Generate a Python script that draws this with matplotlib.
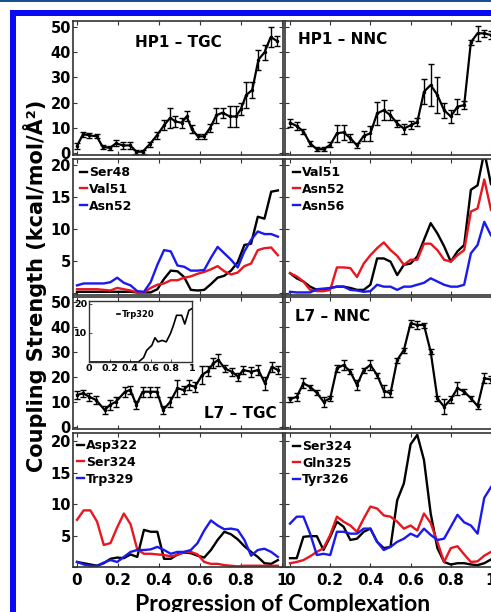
import numpy as np
import matplotlib
matplotlib.use('Agg')
import matplotlib.pyplot as plt
from matplotlib.patches import Rectangle

W, H = 491, 612

# ---------------- data ----------------
# Row 1: HP1 (error-bar curves)
x_hp1_tgc = [0, 0.03, 0.06, 0.096, 0.125, 0.16, 0.19, 0.225, 0.26, 0.29, 0.32, 0.355, 0.39, 0.425, 0.455,
             0.48, 0.51, 0.535, 0.56, 0.59, 0.62, 0.65, 0.68, 0.71, 0.745, 0.775, 0.8, 0.825, 0.855, 0.885,
             0.915, 0.945, 0.975]
hp1_tgc = [2.8, 7.5, 7.0, 6.6, 2.5, 2.0, 3.8, 3.0, 3.0, 0.5, 0.5, 3.5, 7.0, 11.0, 14.0, 12.5, 12.0, 14.5,
           9.5, 6.6, 6.6, 10.0, 15.0, 16.0, 14.5, 14.5, 17.5, 23.0, 25.0, 37.0, 40.0, 46.0, 44.5]
hp1_tgc_err = [1.2, 1.0, 1.0, 0.8, 0.8, 0.8, 1.2, 1.5, 1.5, 0.8, 0.8, 1.0, 1.5, 2.0, 4.0, 2.0, 2.0, 2.0,
               1.5, 1.0, 1.0, 1.5, 3.0, 2.0, 4.0, 4.0, 2.5, 5.0, 3.0, 4.0, 3.0, 4.0, 2.0]

x_right = np.linspace(0, 1, 31)
hp1_nnc = [12.0, 10.7, 8.5, 3.8, 1.5, 1.5, 3.2, 7.8, 8.2, 5.9, 3.0, 6.8, 7.8, 15.7, 17.0, 15.0, 11.7, 9.7,
           11.0, 12.3, 24.3, 27.0, 23.0, 17.0, 14.5, 18.4, 19.0, 44.0, 47.5, 47.5, 46.8]
hp1_nnc_err = [1.5, 1.5, 1.0, 1.0, 0.8, 0.8, 1.0, 3.5, 3.0, 1.5, 1.0, 2.0, 3.0, 4.5, 4.0, 2.0, 1.5, 2.0,
               1.5, 1.5, 5.0, 8.5, 7.0, 3.0, 2.5, 3.0, 1.5, 1.0, 3.0, 1.5, 1.5]

# Row 2: HP1 residues
x_left = np.linspace(0, 0.98, 31)
ser48 = [0.2, 0.2, 0.2, 0.2, 0.2, 0.2, 0.2, 0.2, 0.2, 0.1, 0.1, 0.1, 0.6, 2.2, 3.5, 3.4, 2.5, 0.5, 0.4,
         0.5, 1.4, 2.4, 2.7, 3.5, 4.8, 7.5, 7.7, 11.9, 11.6, 15.8, 16.0]
val51_tgc = [0.6, 0.6, 0.6, 0.6, 0.5, 0.4, 0.8, 0.6, 0.4, 0.1, 0.1, 0.8, 1.3, 1.5, 2.0, 2.0, 2.4, 2.6,
             3.0, 3.3, 3.7, 4.2, 3.4, 2.9, 3.2, 4.2, 4.6, 6.7, 7.0, 7.1, 5.9]
asn52_tgc = [1.2, 1.5, 1.5, 1.5, 1.5, 1.7, 2.4, 1.6, 1.2, 0.3, 0.2, 1.7, 4.4, 6.7, 6.5, 4.3, 4.1, 3.5,
             3.5, 3.6, 5.5, 7.2, 6.2, 5.2, 4.0, 6.5, 8.3, 9.6, 9.2, 9.2, 8.8]

val51_nnc = [3.1, 2.3, 1.8, 1.0, 0.5, 0.4, 0.8, 1.0, 1.0, 0.8, 0.5, 0.5, 1.3, 5.4, 5.4, 4.9, 2.8, 4.4,
             4.6, 5.7, 8.3, 10.9, 9.3, 7.3, 4.9, 6.5, 7.5, 16.1, 16.8, 22.0, 17.0]
asn52_nnc = [3.1, 2.6, 1.8, 0.5, 0.3, 0.3, 0.5, 4.0, 4.0, 3.9, 2.5, 4.6, 5.9, 7.0, 7.9, 6.7, 5.8, 4.4,
             5.2, 5.2, 7.7, 7.7, 6.7, 5.2, 4.9, 5.9, 6.7, 12.7, 13.2, 17.7, 13.0]
asn56_nnc = [0.2, 0.1, 0.1, 0.1, 0.6, 0.7, 0.8, 1.0, 1.0, 0.5, 0.4, 0.2, 0.3, 1.3, 1.0, 1.0, 0.5, 1.0,
             1.0, 1.3, 1.6, 2.3, 1.8, 1.3, 1.0, 1.0, 1.3, 6.2, 7.5, 11.1, 9.0]

# Row 3: L7 (error-bar curves)
x_l7_tgc = [0, 0.03, 0.06, 0.093, 0.135, 0.16, 0.19, 0.234, 0.26, 0.29, 0.32, 0.356, 0.39, 0.42, 0.454,
            0.49, 0.52, 0.545, 0.576, 0.61, 0.64, 0.665, 0.69, 0.72, 0.755, 0.787, 0.81, 0.85, 0.885,
            0.917, 0.95, 0.98]
l7_tgc = [12.8, 13.5, 12.1, 10.8, 6.8, 8.8, 10.1, 14.1, 14.8, 8.8, 14.1, 14.1, 14.1, 6.8, 10.0, 15.5,
          14.8, 16.8, 16.1, 20.8, 22.5, 25.5, 26.8, 23.5, 22.1, 20.1, 22.8, 22.1, 22.8, 17.5, 24.1, 22.8]
l7_tgc_err = [1.5, 1.5, 1.5, 1.5, 1.5, 2.0, 2.0, 2.0, 1.5, 1.5, 2.0, 2.0, 2.0, 1.5, 2.0, 3.5, 1.5, 2.0,
              2.0, 3.5, 2.0, 2.0, 2.5, 1.5, 1.5, 1.5, 1.5, 2.0, 2.0, 2.5, 2.0, 1.5]

l7_nnc = [11.1, 12.1, 17.5, 16.0, 13.7, 10.1, 11.5, 23.5, 24.8, 22.1, 16.8, 22.8, 24.8, 20.8, 14.5, 13.5,
          26.8, 30.8, 41.5, 40.8, 40.8, 30.1, 11.5, 8.1, 11.1, 15.5, 14.1, 11.5, 8.4, 19.5, 19.0]
l7_nnc_err = [1.0, 1.5, 2.0, 1.0, 1.0, 2.0, 1.0, 1.5, 2.0, 1.0, 2.0, 1.0, 2.0, 1.0, 2.5, 1.5,
              1.0, 1.0, 1.5, 1.5, 1.0, 1.0, 1.0, 3.0, 1.5, 2.5, 1.0, 1.0, 1.0, 2.0, 1.5]

# inset: Trp320
x_trp320 = [0, 0.1, 0.2, 0.3, 0.4, 0.48, 0.53, 0.56, 0.61, 0.64, 0.67, 0.71, 0.75, 0.79, 0.82, 0.85,
            0.9, 0.93, 0.97, 1.0]
trp320 = [0, 0, 0, 0, 0, 0, 1.5, 4.0, 5.7, 8.3, 6.9, 7.4, 6.9, 9.7, 12.6, 16.0, 16.0, 13.0, 17.7, 18.3]

# Row 4: L7 residues
asp322 = [0.8, 0.6, 0.4, 0.2, 0.6, 1.3, 1.5, 1.4, 2.0, 1.6, 5.9, 5.6, 5.6, 1.3, 1.3, 2.0, 2.3, 2.2,
          1.8, 1.5, 2.7, 4.3, 5.6, 5.2, 4.4, 3.3, 2.4, 1.6, 0.6, 0.5, 1.1]
ser324_tgc = [7.5, 9.0, 9.0, 7.2, 3.5, 3.8, 6.3, 8.5, 6.8, 2.8, 2.1, 2.1, 2.0, 1.9, 1.7, 1.9, 2.4, 2.4,
              2.0, 0.8, 0.5, 0.5, 0.3, 0.2, 0.1, 0.2, 0.2, 0.2, 0.2, 0.2, 0.2]
trp329 = [0.8, 0.4, 0.2, 0.2, 0.7, 1.1, 0.8, 1.6, 2.4, 2.7, 2.7, 2.8, 3.2, 2.7, 2.1, 2.4, 2.4, 2.7,
          3.8, 5.8, 7.4, 6.6, 6.0, 6.1, 5.9, 4.3, 1.8, 2.7, 2.9, 2.4, 1.6]

ser324_nnc = [1.4, 1.4, 4.8, 4.9, 4.9, 2.7, 4.8, 7.2, 6.4, 4.3, 4.5, 5.6, 6.1, 4.0, 3.0, 3.2, 10.6, 13.3,
              19.5, 21.0, 17.0, 8.5, 3.0, 0.8, 0.4, 0.6, 0.6, 0.4, 0.3, 0.6, 1.2]
gln325 = [0.6, 0.8, 1.1, 1.7, 2.4, 3.0, 5.1, 8.0, 7.2, 6.6, 5.6, 7.7, 9.6, 9.3, 8.2, 8.0, 7.2, 6.1,
          6.6, 5.8, 8.5, 7.0, 4.0, 0.8, 3.0, 3.3, 2.0, 0.8, 0.9, 1.8, 2.4]
tyr326 = [6.9, 8.0, 8.0, 5.3, 1.9, 2.1, 1.9, 5.6, 5.6, 5.3, 5.3, 6.1, 6.1, 4.0, 2.7, 3.2, 4.0, 4.5,
          5.3, 4.8, 6.1, 5.1, 4.3, 4.5, 6.4, 8.3, 7.1, 6.6, 5.3, 11.0, 12.7]

xticks = [0, 0.2, 0.4, 0.6, 0.8, 1.0]
xtick_labels = ['0', '0.2', '0.4', '0.6', '0.8', '1']

# ---------------- style ----------------
plt.rcParams['font.family'] = ['DejaVu Sans']
plt.rcParams['font.weight'] = 'bold'
RED = '#e8161e'
BLUE = '#1a1aee'
SPINE = '#333333'

fig = plt.figure(figsize=(W / 100, H / 100), dpi=100)
fig.patch.set_facecolor('white')


def px_axes(x0, y0, x1, y1):
    return fig.add_axes([x0 / W, 1 - y1 / H, (x1 - x0) / W, (y1 - y0) / H])


def style(ax, left, bottom_labels):
    for s in ax.spines.values():
        s.set_color(SPINE)
        s.set_linewidth(1.2)
    ax.tick_params(direction='in', length=3, width=0.8, color=SPINE, top=True, right=True,
                   labelleft=left, labelbottom=bottom_labels, pad=1.5)
    ax.tick_params(axis='y', labelsize=10.5)
    ax.tick_params(axis='x', labelsize=11, pad=4)
    ax.set_xticks(xticks)
    if bottom_labels:
        ax.set_xticklabels(xtick_labels)
    for lab in ax.get_yticklabels() + ax.get_xticklabels():
        lab.set_fontweight('bold')


LX0, LX1 = 73, 283
RX0, RX1 = 285, 497
rows = [(21, 155), (159, 295), (297, 429), (433, 567)]
lxlim = (-0.0195, 1.005)
rxlim = (-0.025, 1.03)
ylims = [(-0.8, 52.4), (-0.3, 20.9), (-0.8, 52.0), (0, 21.3)]

eb_kw = dict(fmt='-', color='black', lw=1.6, marker='.', ms=3, capsize=2, elinewidth=1.0, capthick=1.0)
ln_kw = dict(lw=1.7)
leg_kw = dict(frameon=False, handlelength=0.55, handletextpad=0.2, labelspacing=0.3,
              borderpad=0, borderaxespad=0, prop={'weight': 'bold', 'size': 9})

axes = {}
for r, (y0, y1) in enumerate(rows):
    for side in ('L', 'R'):
        if side == 'L':
            ax = px_axes(LX0, y0, LX1, y1)
            ax.set_xlim(*lxlim)
        else:
            ax = px_axes(RX0, y0, RX1, y1)
            ax.set_xlim(*rxlim)
        ax.set_ylim(*ylims[r])
        if r in (0, 2):
            ax.set_yticks([0, 10, 20, 30, 40, 50])
        else:
            ax.set_yticks([0, 5, 10, 15, 20])
            ax.set_yticklabels(['', '5', '10', '15', '20'])
        style(ax, side == 'L', r == 3)
        axes[(r, side)] = ax

# Row 1
ax = axes[(0, 'L')]
ax.errorbar(x_hp1_tgc, hp1_tgc, yerr=hp1_tgc_err, **eb_kw)
ax.text(0.5, 0.84, 'HP1 – TGC', transform=ax.transAxes, ha='center', va='center', fontsize=11, fontweight='bold')
ax = axes[(0, 'R')]
ax.errorbar(x_right, hp1_nnc, yerr=hp1_nnc_err, **eb_kw)
ax.text((298 - RX0) / (RX1 - RX0), 1 - (39 - 21) / 134, 'HP1 – NNC', transform=ax.transAxes,
        ha='left', va='center', fontsize=11, fontweight='bold')

# Row 2
ax = axes[(1, 'L')]
ax.plot(x_left, ser48, color='black', label='Ser48', **ln_kw)
ax.plot(x_left, val51_tgc, color=RED, label='Val51', **ln_kw)
ax.plot(x_left, asn52_tgc, color=BLUE, label='Asn52', **ln_kw)
ax.legend(loc='upper left', bbox_to_anchor=((80 - LX0) / 210, 1 - (166 - 159) / 136), **leg_kw)
ax = axes[(1, 'R')]
ax.plot(x_right, val51_nnc, color='black', label='Val51', **ln_kw)
ax.plot(x_right, asn52_nnc, color=RED, label='Asn52', **ln_kw)
ax.plot(x_right, asn56_nnc, color=BLUE, label='Asn56', **ln_kw)
ax.legend(loc='upper left', bbox_to_anchor=((293 - RX0) / 212, 1 - (166 - 159) / 136), **leg_kw)

# Row 3
ax = axes[(2, 'L')]
ax.errorbar(x_l7_tgc, l7_tgc, yerr=l7_tgc_err, **eb_kw)
ax.text((240 - LX0) / 210, 1 - (413 - 297) / 132, 'L7 – TGC', transform=ax.transAxes,
        ha='center', va='center', fontsize=11, fontweight='bold')
ax = axes[(2, 'R')]
ax.errorbar(x_right, l7_nnc, yerr=l7_nnc_err, **eb_kw)
ax.text((295 - RX0) / 212, 1 - (317 - 297) / 132, 'L7 – NNC', transform=ax.transAxes,
        ha='left', va='center', fontsize=11, fontweight='bold')

# inset
axi = px_axes(89, 301, 192, 362)
axi.plot(x_trp320, trp320, color='black', lw=1.2, label='Trp320')
axi.set_xlim(0, 1)
axi.set_ylim(0, 20.9)
axi.set_yticks([10, 20])
axi.set_xticks(xticks)
axi.set_xticklabels(xtick_labels)
for s in axi.spines.values():
    s.set_color(SPINE)
    s.set_linewidth(1.0)
axi.tick_params(direction='in', length=2, width=0.6, color=SPINE, labelsize=6.8, pad=1.5)
for lab in axi.get_yticklabels() + axi.get_xticklabels():
    lab.set_fontweight('bold')
axi.legend(loc='upper left', bbox_to_anchor=((117 - 89) / 103, 1 - (310 - 301) / 61), frameon=False,
           handlelength=0.4, handletextpad=0.2, borderpad=0, borderaxespad=0,
           prop={'weight': 'bold', 'size': 6})

# Row 4
ax = axes[(3, 'L')]
ax.plot(x_left, asp322, color='black', label='Asp322', **ln_kw)
ax.plot(x_left, ser324_tgc, color=RED, label='Ser324', **ln_kw)
ax.plot(x_left, trp329, color=BLUE, label='Trp329', **ln_kw)
ax.legend(loc='upper left', bbox_to_anchor=((77 - LX0) / 210, 1 - (439 - 433) / 134), **leg_kw)
ax = axes[(3, 'R')]
ax.plot(x_right, ser324_nnc, color='black', label='Ser324', **ln_kw)
ax.plot(x_right, gln325, color=RED, label='Gln325', **ln_kw)
ax.plot(x_right, tyr326, color=BLUE, label='Tyr326', **ln_kw)
ax.legend(loc='upper left', bbox_to_anchor=((293 - RX0) / 212, 1 - (440 - 433) / 134), **leg_kw)

# axis labels
fig.text(35 / W, 1 - 286 / H, 'Coupling Strength (kcal/mol/Å²)', rotation=90, ha='center', va='center',
         fontsize=15, fontweight='bold')
fig.text(283 / W, 1 - 611 / H, 'Progression of Complexation', ha='center', va='baseline',
         fontsize=16.5, fontweight='bold', family=['Lato', 'DejaVu Sans'])

# page frame decorations
fig.add_artist(Rectangle((0, 1 - 2.3 / H), 1, 2.3 / H, transform=fig.transFigure,
                         facecolor='#1b4f95', edgecolor='none'))
fig.add_artist(Rectangle((10 / W, 1 - 16 / H), 1, 6 / H, transform=fig.transFigure,
                         facecolor='#0a0af5', edgecolor='none'))
fig.add_artist(Rectangle((10 / W, 0), 5.5 / W, 1 - 10 / H, transform=fig.transFigure,
                         facecolor='#0a0af5', edgecolor='none'))

fig.savefig('out.png', dpi=100, facecolor='white')
